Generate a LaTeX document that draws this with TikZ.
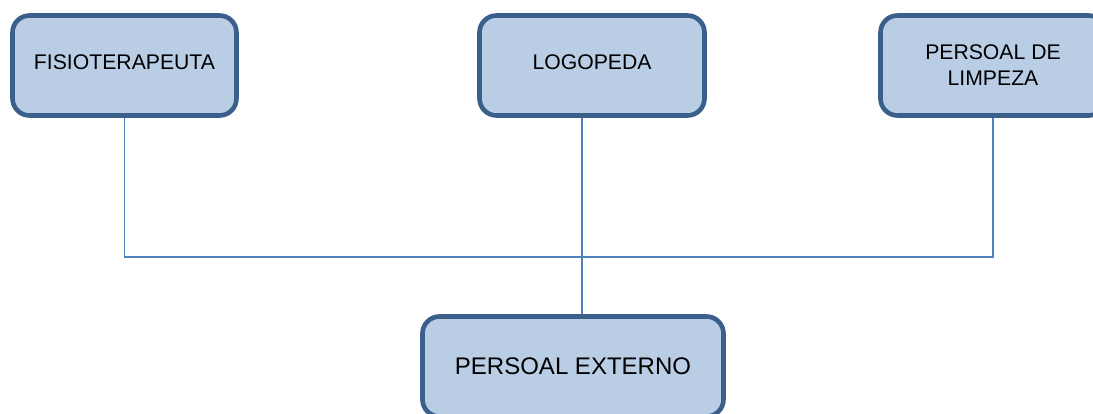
\documentclass[tikz,border=0pt]{standalone}
\usepackage{fontspec}
\setmainfont{Liberation Sans}
\definecolor{boxfill}{HTML}{B9CDE5}
\definecolor{boxdraw}{HTML}{3A5F8B}
\definecolor{linkcol}{HTML}{4F81BD}
\begin{document}
\begin{tikzpicture}[x=1pt,y=-1pt,
  rolebox/.style={draw=boxdraw, fill=boxfill, line width=4.6pt, rounded corners=17pt,
    minimum width=224pt, minimum height=100pt, inner sep=0pt, align=center,
    font=\fontsize{21.2}{26}\selectfont},
  link/.style={draw=linkcol, line width=1.3pt}]
\useasboundingbox (0,0) rectangle (1093,414);
\clip (0,0) rectangle (1093,414);
\node[rolebox, text depth=6pt] (fis) at (124.5,65.5) {FISIOTERAPEUTA};
\node[rolebox, minimum width=225pt, text depth=6pt] (log) at (592,65.5) {LOGOPEDA};
\node[rolebox, minimum width=225pt] (lim) at (993,65.5) {PERSOAL DE\\LIMPEZA};
\node[rolebox, minimum width=301pt, minimum height=100pt, font=\fontsize{24}{28}\selectfont] (ext) at (573,366.5) {PERSOAL EXTERNO};
\coordinate (mid) at (582,257);
\draw[link] (fis.south) |- (mid) -| (lim.south);
\draw[link] (log.south -| mid) -- (ext.north -| mid);
\end{tikzpicture}
\end{document}
